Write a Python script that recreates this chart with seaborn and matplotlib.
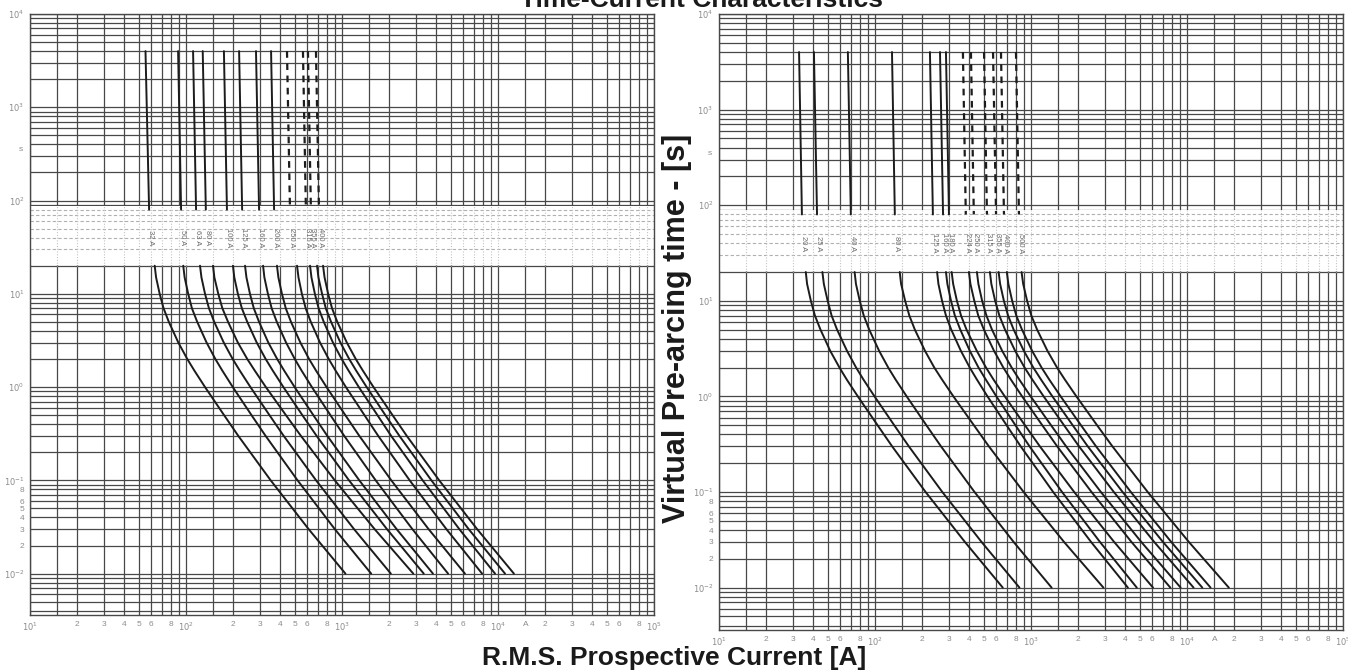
# Time-current characteristics of two fuse ranges, redrawn from the data sheet
import numpy as np
import pandas as pd
import matplotlib
matplotlib.use('Agg')
import matplotlib.pyplot as plt
import seaborn as sns
from matplotlib.ticker import FixedLocator, FixedFormatter, NullFormatter

sns.set_theme(style='white')
plt.rcParams['font.family'] = ['Liberation Sans', 'DejaVu Sans']

# Times (s) at which the lower branch of every curve was read
LOWER_TIMES = [20, 15, 10, 7, 5, 3, 2, 1.5, 1, 0.5, 0.3, 0.1, 0.03, 0.01]
# Upper (nearly vertical) branch: start and end time (s)
UPPER_TIMES = [4000, 80]

# ---- left chart ----
LEFT_RATINGS = [32, 50, 63, 80, 100, 125, 160, 200, 250, 315, 355, 400]
LEFT_DASHED = [250, 315, 355, 400]
LEFT_UPPER_TOP = [55, 89, 111, 128, 175, 219, 281, 351, 444, 562, 605, 681]
LEFT_UPPER_BOT = [58, 93, 116, 134, 183, 229, 294, 367, 464, 587, 632, 712]
LEFT_32 = [63, 64.3, 67.8, 71.8, 77.6, 89.3, 101.9, 113.2, 132.4, 175.4, 216.3, 349, 611, 1052]
LEFT_50 = [96, 98, 103.3, 109.1, 118, 135.5, 154.2, 171, 199.5, 263, 323.6, 519, 899, 1538]
LEFT_63 = [123, 125.6, 132.4, 140.3, 151.7, 174.6, 199.1, 221.3, 258.8, 342.8, 422.7, 682, 1194, 2056]
LEFT_80 = [149, 152, 161, 171, 186, 215, 247, 276, 325, 437, 545, 899, 1618, 2864]
LEFT_100 = [200, 204, 215, 228, 247, 284, 324, 360, 421, 557, 687, 1109, 1941, 3342]
LEFT_125 = [239, 244, 257, 272, 294, 337, 384, 426, 497, 655, 805, 1291, 2239, 3828]
LEFT_160 = [312, 318, 335, 354, 382, 438, 498, 551, 641, 843, 1033, 1644, 2825, 4786]
LEFT_200 = [383, 391, 412, 436, 471, 541, 615, 682, 796, 1050, 1291, 2070, 3589, 6138]
LEFT_250 = [515, 526, 553, 585, 631, 723, 822, 910, 1059, 1393, 1706, 2716, 4667, 7907]
LEFT_315 = [624, 637, 670, 708, 764, 875, 995, 1102, 1282, 1687, 2065, 3289, 5649, 9572]
LEFT_355 = [692, 706, 745, 787, 851, 977, 1112, 1233, 1439, 1897, 2333, 3741, 6486, 11092]
LEFT_400 = [756, 773, 815, 863, 933, 1074, 1225, 1361, 1592, 2109, 2600, 4198, 7345, 12647]
LEFT_LOWER = [LEFT_32, LEFT_50, LEFT_63, LEFT_80, LEFT_100, LEFT_125,
              LEFT_160, LEFT_200, LEFT_250, LEFT_315, LEFT_355, LEFT_400]

# ---- right chart ----
RIGHT_RATINGS = [20, 25, 40, 80, 125, 160, 180, 224, 250, 315, 355, 400, 500]
RIGHT_DASHED = [224, 250, 315, 355, 400, 500]
RIGHT_UPPER_TOP = [32.6, 40.6, 67, 128.5, 225, 261, 285, 366, 412, 500, 571, 642, 801]
RIGHT_UPPER_BOT = [34, 42.5, 70, 134, 235, 273, 298, 382, 430, 522, 597, 671, 837]
RIGHT_20 = [36, 36.7, 38.8, 41.2, 44.7, 51.6, 59.2, 65.9, 77.6, 103.8, 128.8, 211, 377, 659]
RIGHT_25 = [46, 47, 49.7, 52.7, 57.1, 66.1, 75.7, 84.3, 99.3, 132.7, 164.8, 270, 482, 843]
RIGHT_40 = [74, 75.5, 79.8, 84.7, 91.8, 106.2, 121.6, 135.5, 159.6, 213.3, 264.9, 434.5, 774, 1355]
RIGHT_80 = [144, 147, 156, 166, 180, 209, 240, 269, 318, 430, 537, 897, 1629, 2911]
RIGHT_125 = [250, 255, 269, 285, 308, 355, 405, 450, 526, 697, 859, 1387, 2427, 4178]
RIGHT_160 = [285, 291, 307, 325, 352, 405, 461, 513, 600, 794, 979, 1581, 2767, 4764]
RIGHT_180 = [310, 317, 335, 356, 386, 449, 515, 575, 679, 914, 1140, 1892, 3412, 6053]
RIGHT_224 = [400, 409, 433, 459, 499, 579, 665, 743, 877, 1180, 1472, 2443, 4406, 7816]
RIGHT_250 = [450, 460, 486, 518, 562, 653, 752, 841, 995, 1343, 1679, 2805, 5093, 9099]
RIGHT_315 = [545, 557, 589, 627, 681, 791, 910, 1019, 1205, 1626, 2032, 3396, 6166, 11015]
RIGHT_355 = [620, 634, 670, 713, 774, 899, 1035, 1159, 1371, 1849, 2312, 3864, 7015, 12531]
RIGHT_400 = [700, 716, 757, 805, 875, 1016, 1169, 1309, 1549, 2089, 2612, 4365, 7925, 14158]
RIGHT_500 = [870, 891, 944, 1005, 1094, 1274, 1469, 1648, 1954, 2649, 3327, 5598, 10280, 18535]
RIGHT_LOWER = [RIGHT_20, RIGHT_25, RIGHT_40, RIGHT_80, RIGHT_125, RIGHT_160,
               RIGHT_180, RIGHT_224, RIGHT_250, RIGHT_315, RIGHT_355,
               RIGHT_400, RIGHT_500]

# Axis ticks (labelled) and extra grid lines
X_TICKS = [10, 20, 30, 40, 50, 60, 80, 100, 200, 300, 400, 500, 600, 800,
           1000, 2000, 3000, 4000, 5000, 6000, 8000, 10000, 15000, 20000,
           30000, 40000, 50000, 60000, 80000, 100000]
X_LABELS = ['$10^1$', '2', '3', '4', '5', '6', '8', '$10^2$', '2', '3', '4',
            '5', '6', '8', '$10^3$', '2', '3', '4', '5', '6', '8', '$10^4$',
            'A', '2', '3', '4', '5', '6', '8', '$10^5$']
X_GRID_EXTRA = [15, 70, 90, 150, 700, 900, 1500, 7000, 9000, 70000, 90000]
Y_TICKS = [0.01, 0.02, 0.03, 0.04, 0.05, 0.06, 0.08, 0.1, 1, 10, 100, 1000, 10000]
Y_LABELS = ['$10^{-2}$', '2', '3', '4', '5', '6', '8', '$10^{-1}$', '$10^0$',
            '$10^1$', '$10^2$', '$10^3$', '$10^4$']
Y_UNIT_POS = 350
LEFT_YLIM = (0.0036, 10000)
RIGHT_YLIM = (0.0036, 10000)
X_LIMITS = (10, 100000)
BAND = (20, 90)
BAND_LINES = [30, 40, 50, 60, 70, 80]

GRID_COLOR = '#484848'
CURVE_COLOR = '#1c1c1c'
LABEL_COLOR = '#8c8c8c'


def y_grid_extra(ylim):
    vals = []
    for dec in [0.001, 0.01, 0.1, 1, 10, 100, 1000]:
        for m in range(2, 10):
            v = round(dec * m, 6)
            if v in Y_TICKS or v < ylim[0]:
                continue
            vals.append(v)
    return vals


def build_frames(ratings, dashed, top, bot, lower):
    rows_low, rows_up = [], []
    for i, r in enumerate(ratings):
        for t, cur in zip(LOWER_TIMES, lower[i]):
            rows_low.append({'rating': r, 'current': cur, 'time': t})
        for t, cur in zip(UPPER_TIMES, [top[i], bot[i]]):
            rows_up.append({'rating': r, 'current': cur, 'time': t,
                            'dashed': r in dashed})
    return pd.DataFrame(rows_low), pd.DataFrame(rows_up)


def draw_panel(ax, ylim, ratings, dashed, top, bot, lower):
    ax.set_xscale('log')
    ax.set_yscale('log')
    ax.set_xlim(*X_LIMITS)
    ax.set_ylim(*ylim)

    ax.xaxis.set_major_locator(FixedLocator(X_TICKS))
    ax.xaxis.set_major_formatter(FixedFormatter(X_LABELS))
    ax.xaxis.set_minor_locator(FixedLocator(X_GRID_EXTRA))
    ax.xaxis.set_minor_formatter(NullFormatter())
    ax.yaxis.set_major_locator(FixedLocator(Y_TICKS))
    ax.yaxis.set_major_formatter(FixedFormatter(Y_LABELS))
    ax.yaxis.set_minor_locator(FixedLocator(y_grid_extra(ylim)))
    ax.yaxis.set_minor_formatter(NullFormatter())
    ax.tick_params(which='both', length=0, labelsize=6, labelcolor=LABEL_COLOR, pad=4)
    ax.grid(which='both', color=GRID_COLOR, lw=0.9)
    for sp in ax.spines.values():
        sp.set_color(GRID_COLOR)
        sp.set_linewidth(1.0)
    ax.text(-0.012, Y_UNIT_POS, 's', transform=ax.get_yaxis_transform(),
            ha='right', va='center', fontsize=6, color=LABEL_COLOR)

    # light label band between 20 s and 90 s
    ax.axhspan(BAND[0] * 1.03, BAND[1] * 0.98, color='white', zorder=1.6, lw=0)
    ax.hlines(BAND_LINES, *X_LIMITS, colors='#b0b0b0', linestyles=(0, (3, 2)),
              lw=0.8, zorder=1.7)
    xg = X_TICKS + X_GRID_EXTRA
    ax.vlines(xg, BAND[0], BAND[1], colors='#c4c4c4', linestyles=(0, (1, 1.5)),
              lw=0.8, zorder=1.7)

    low, up = build_frames(ratings, dashed, top, bot, lower)
    sns.lineplot(data=low, x='current', y='time', units='rating', estimator=None,
                 sort=False, color=CURVE_COLOR, lw=1.4, ax=ax, zorder=3)
    sns.lineplot(data=up[~up['dashed']], x='current', y='time', units='rating',
                 estimator=None, sort=False, color=CURVE_COLOR, lw=1.4, ax=ax, zorder=3)
    if up['dashed'].any():
        sns.lineplot(data=up[up['dashed']], x='current', y='time', units='rating',
                     estimator=None, sort=False, color=CURVE_COLOR, lw=1.6,
                     linestyle=(0, (3, 2.5)), ax=ax, zorder=3)

    for r, b in zip(ratings, bot):
        ax.text(b * 1.02, 40, f'{r} A', rotation=-90, ha='center', va='center',
                fontsize=5.5, color='#6a6a6a', zorder=4)

    ax.set_xlabel('')
    ax.set_ylabel('')


fig = plt.figure(figsize=(13.48, 6.70), dpi=100)
W, H = 1348, 670
ax_l = fig.add_axes([30 / W, 1 - 615 / H, 624 / W, (615 - 14) / H])
ax_r = fig.add_axes([719 / W, 1 - 630 / H, 624 / W, (630 - 14) / H])

draw_panel(ax_l, LEFT_YLIM, LEFT_RATINGS, LEFT_DASHED, LEFT_UPPER_TOP,
           LEFT_UPPER_BOT, LEFT_LOWER)
draw_panel(ax_r, RIGHT_YLIM, RIGHT_RATINGS, RIGHT_DASHED, RIGHT_UPPER_TOP,
           RIGHT_UPPER_BOT, RIGHT_LOWER)

fig.text(701 / W, 1 - 7 / H, 'Time-Current Characteristics', ha='center',
         va='baseline', fontsize=19, fontweight='bold', color='#1a1a1a')
fig.text(677 / W, 1 - 328 / H, 'Virtual Pre-arcing time - [s]', rotation=90,
         ha='center', va='center', fontsize=22, fontweight='bold', color='#1a1a1a')
fig.text(674 / W, 1 - 658 / H, 'R.M.S. Prospective Current [A]', ha='center',
         va='center', fontsize=19, fontweight='bold', color='#1a1a1a')

fig.savefig('out.png', dpi=100, facecolor='white')
plt.close(fig)
